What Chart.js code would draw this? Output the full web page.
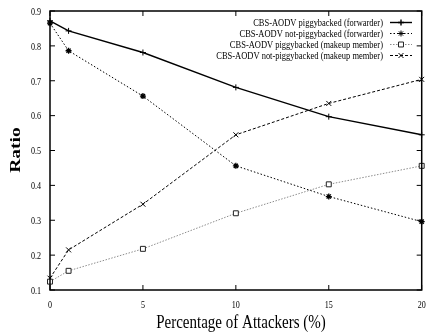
<!DOCTYPE html>
<html>
<head>
<meta charset="utf-8">
<script src="https://cdn.jsdelivr.net/npm/chart.js@4"></script>
<style>
  html, body { margin: 0; padding: 0; background: #fff; }
  #wrap { width: 427px; height: 335px; position: relative; }
</style>
</head>
<body>
<div id="wrap"><canvas id="ratioChart"></canvas></div>
<script>
const attackers = [0, 1, 5, 10, 15, 20];
const pigFwd = [0.872, 0.843, 0.781, 0.681, 0.597, 0.545];
const notPigFwd = [0.865, 0.786, 0.656, 0.456, 0.368, 0.296];
const pigMember = [0.124, 0.155, 0.218, 0.320, 0.403, 0.456];
const notPigMember = [0.134, 0.215, 0.346, 0.545, 0.635, 0.704];

const xTicks = [0, 5, 10, 15, 20];
const yTicks = [0.1, 0.2, 0.3, 0.4, 0.5, 0.6, 0.7, 0.8, 0.9];
const yTickLabels = ['0.1', '0.2', '0.3', '0.4', '0.5', '0.6', '0.7', '0.8', '0.9'];
const seriesNames = [
  'CBS-AODV piggybacked (forwarder)',
  'CBS-AODV not-piggybacked (forwarder)',
  'CBS-AODV piggybacked (makeup member)',
  'CBS-AODV not-piggybacked (makeup member)'
];

const SERIF = '"Liberation Serif", "Times New Roman", serif';
const SQUASH = 0.77; // narrow serif look

function pts(ys) {
  return attackers.map((x, i) => ({ x: x, y: ys[i] }));
}

// text drawn narrow: horizontal scale around the anchor point
function narrowText(ctx, text, x, y, font, align, baseline, rot) {
  ctx.save();
  ctx.translate(x, y);
  ctx.scale(SQUASH, 1);
  if (rot) ctx.rotate(rot);
  ctx.font = font;
  ctx.fillStyle = '#000';
  ctx.textAlign = align;
  ctx.textBaseline = baseline;
  ctx.fillText(text, 0, 0);
  ctx.restore();
}

const frameAndText = {
  id: 'frameAndText',
  afterDraw(chart) {
    const ctx = chart.ctx;
    const a = chart.chartArea;
    const xs = chart.scales.x, ys = chart.scales.y;

    ctx.save();
    ctx.strokeStyle = '#000';
    ctx.lineWidth = 1.5;
    ctx.strokeRect(a.left, a.top, a.right - a.left, a.bottom - a.top);

    // inward ticks on all four sides
    ctx.lineWidth = 1;
    ctx.beginPath();
    xTicks.forEach(v => {
      const px = xs.getPixelForValue(v);
      ctx.moveTo(px, a.bottom); ctx.lineTo(px, a.bottom - 5);
      ctx.moveTo(px, a.top); ctx.lineTo(px, a.top + 5);
    });
    yTicks.forEach(v => {
      const py = ys.getPixelForValue(v);
      ctx.moveTo(a.left, py); ctx.lineTo(a.left + 5, py);
      ctx.moveTo(a.right, py); ctx.lineTo(a.right - 5, py);
    });
    ctx.stroke();
    ctx.restore();

    const tickFont = '10.5px ' + SERIF;
    xTicks.forEach(v => {
      narrowText(ctx, String(v), xs.getPixelForValue(v), a.bottom + 10, tickFont, 'center', 'top');
    });
    yTicks.forEach((v, i) => {
      narrowText(ctx, yTickLabels[i], a.left - 9, ys.getPixelForValue(v) + 1, tickFont, 'right', 'middle');
    });

    narrowText(ctx, 'Percentage of Attackers (%)', 241, 328, '19.5px ' + SERIF, 'center', 'alphabetic');
    narrowText(ctx, 'Ratio', 20, 150, 'bold 19.5px ' + SERIF, 'center', 'alphabetic', -Math.PI / 2);

    // key in the upper right corner
    chart.data.datasets.forEach((ds, i) => {
      const y = 22.5 + i * 11;
      narrowText(ctx, seriesNames[i], 383, y + 0.5, '11px ' + SERIF, 'right', 'middle');
      ctx.save();
      ctx.strokeStyle = ds.borderColor;
      ctx.lineWidth = ds.borderWidth;
      ctx.setLineDash(ds.borderDash || []);
      ctx.beginPath();
      ctx.moveTo(390, y); ctx.lineTo(412, y);
      ctx.stroke();
      ctx.setLineDash([]);
      ctx.strokeStyle = ds.pointBorderColor;
      ctx.fillStyle = ds.pointBackgroundColor;
      Chart.helpers.drawPoint(ctx, {
        pointStyle: ds.pointStyle,
        radius: ds.pointRadius,
        borderWidth: ds.pointBorderWidth,
        rotation: 0
      }, 401, y);
      ctx.restore();
    });
  }
};

const ctx = document.getElementById('ratioChart').getContext('2d');
const ratioChart = new Chart(ctx, {
  type: 'line',
  data: {
    datasets: [
      {
        label: seriesNames[0],
        data: pts(pigFwd),
        borderColor: '#000',
        borderWidth: 1.4,
        pointStyle: 'cross',
        pointRadius: 3,
        pointBorderWidth: 1,
        pointBorderColor: '#000',
        pointBackgroundColor: '#000',
        clip: false
      },
      {
        label: seriesNames[1],
        data: pts(notPigFwd),
        borderColor: '#000',
        borderWidth: 1,
        borderDash: [1.5, 2],
        pointStyle: 'star',
        pointRadius: 3,
        pointBorderWidth: 1.3,
        pointBorderColor: '#000',
        pointBackgroundColor: '#000',
        clip: false
      },
      {
        label: seriesNames[2],
        data: pts(pigMember),
        borderColor: '#8c8c8c',
        borderWidth: 1,
        borderDash: [1.5, 1.5],
        pointStyle: 'rect',
        pointRadius: 3.5,
        pointBorderWidth: 1,
        pointBorderColor: '#222',
        pointBackgroundColor: '#fff',
        clip: false
      },
      {
        label: seriesNames[3],
        data: pts(notPigMember),
        borderColor: '#000',
        borderWidth: 1,
        borderDash: [3, 2],
        pointStyle: 'crossRot',
        pointRadius: 3.5,
        pointBorderWidth: 1,
        pointBorderColor: '#000',
        pointBackgroundColor: '#000',
        clip: false
      }
    ]
  },
  options: {
    responsive: true,
    maintainAspectRatio: false,
    animation: false,
    layout: { padding: { top: 11, right: 4, left: 0, bottom: 0 } },
    plugins: {
      legend: { display: false },
      tooltip: { enabled: false }
    },
    elements: { line: { tension: 0, fill: false } },
    scales: {
      x: {
        type: 'linear',
        min: 0,
        max: 20,
        ticks: { display: false },
        grid: { display: false },
        border: { display: false },
        afterFit: (scale) => { scale.height = 45; }
      },
      y: {
        type: 'linear',
        min: 0.1,
        max: 0.9,
        ticks: { display: false },
        grid: { display: false },
        border: { display: false },
        afterFit: (scale) => { scale.width = 50; }
      }
    }
  },
  plugins: [frameAndText]
});
</script>
</body>
</html>
